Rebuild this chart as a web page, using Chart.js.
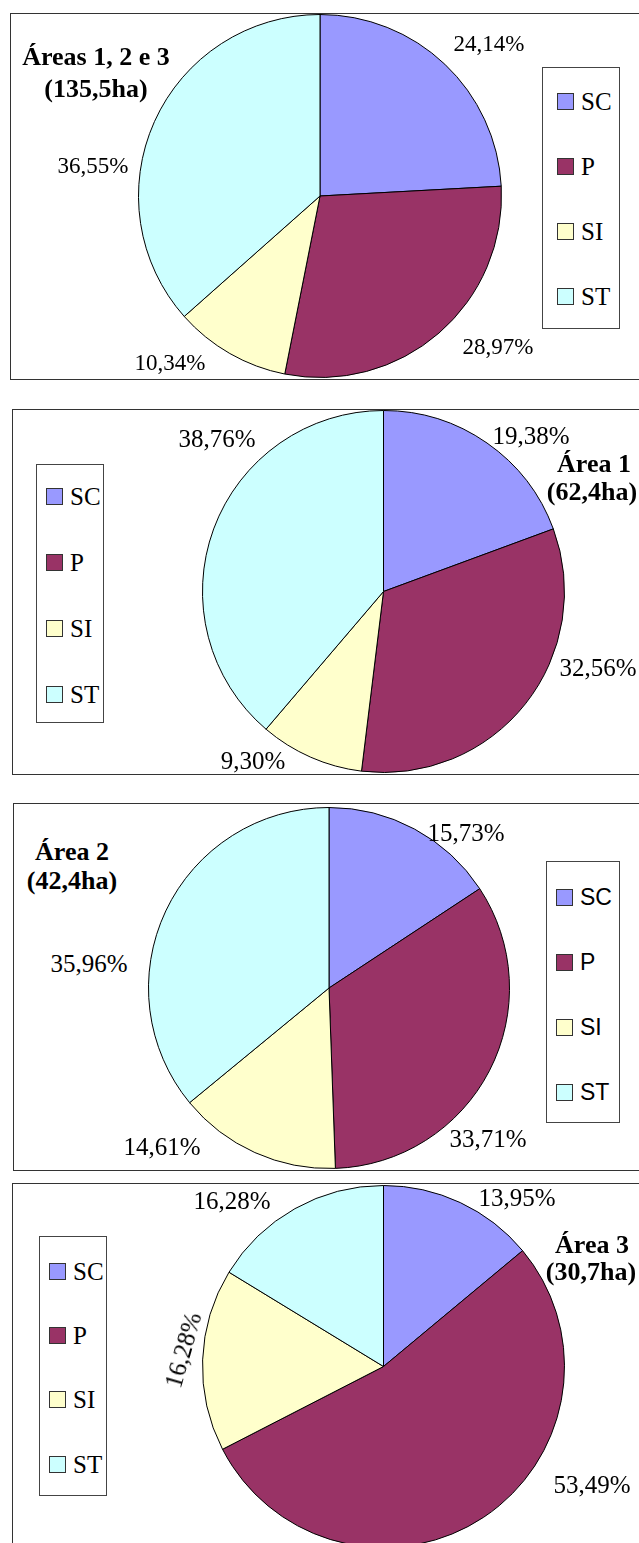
<!DOCTYPE html>
<html>
<head>
<meta charset="utf-8">
<script src="https://cdn.jsdelivr.net/npm/chart.js@4/dist/chart.umd.min.js"></script>
<style>
  html, body { margin: 0; padding: 0; background: #fff; }
  body { position: relative; width: 639px; height: 1543px; overflow: hidden;
         font-family: "Liberation Serif", "Times New Roman", serif; color: #000; }
  .box { position: absolute; border: 1px solid #333; box-sizing: border-box; background: transparent; }
  .pie { position: absolute; }
  .txt { position: absolute; white-space: nowrap; line-height: 1; transform: translate(-50%, -50%); }
  .title { font-weight: bold; font-size: 26px; }
  .legend { position: absolute; border: 1px solid #444; box-sizing: border-box; }
  .item { position: absolute; display: flex; align-items: center; line-height: 1; }
  .sw { width: 15px; height: 15px; border: 1px solid #333; margin-right: 7px; }
</style>
</head>
<body>
<script>
// Land-use classes and their fill colours
const categories = ['SC', 'P', 'SI', 'ST'];
const sliceColors = ['#9999FF', '#993366', '#FFFFCC', '#CCFFFF'];

// Share of each class (%) per area
const areasAll = [24.14, 28.97, 10.34, 36.55];
const area1 = [19.38, 32.56, 9.30, 38.76];
const area2 = [15.73, 33.71, 14.61, 35.96];
const area3 = [13.95, 53.49, 16.28, 16.28];

// Panel headings
const titlesAll = ['Áreas 1, 2 e 3', '(135,5ha)'];
const titles1 = ['Área 1', '(62,4ha)'];
const titles2 = ['Área 2', '(42,4ha)'];
const titles3 = ['Área 3', '(30,7ha)'];

// Page layout for each panel (frame, pie, legend, heading and value labels)
const panels = [
  {
    values: areasAll, titles: titlesAll,
    frame: { x: 10, y: 13, w: 640, h: 367 },
    pie: { x: 138, y: 14, size: 364 },
    legend: { x: 542, y: 67, w: 78, h: 262, first: 33, step: 65, swx: 14, font: 'serif', fs: 25 },
    head: [[96, 57], [96, 89]],
    labelFs: 23,
    labels: [[489, 43, 0], [498, 346, 0], [170, 362, 0], [93, 165, 0]]
  },
  {
    values: area1, titles: titles1,
    frame: { x: 12, y: 409, w: 640, h: 366 },
    pie: { x: 202, y: 410, size: 363 },
    legend: { x: 36, y: 464, w: 68, h: 259, first: 31, step: 66, swx: 9, font: 'serif', fs: 25 },
    head: [[594, 464], [592, 492]],
    labelFs: 25,
    labels: [[531, 435, 0], [598, 667, 0], [253, 760, 0], [217, 438, 0]]
  },
  {
    values: area2, titles: titles2,
    frame: { x: 13, y: 803, w: 640, h: 368 },
    pie: { x: 148, y: 807, size: 362 },
    legend: { x: 546, y: 861, w: 74, h: 262, first: 35, step: 65.3, swx: 9, font: 'sans', fs: 23 },
    head: [[72, 852], [72, 881]],
    labelFs: 25,
    labels: [[466, 832, 0], [488, 1138, 0], [162, 1146, 0], [89, 963, 0]]
  },
  {
    values: area3, titles: titles3,
    frame: { x: 12, y: 1183, w: 640, h: 380 },
    pie: { x: 202, y: 1185, size: 363 },
    legend: { x: 39, y: 1236, w: 68, h: 260, first: 34, step: 64.4, swx: 9, font: 'serif', fs: 25 },
    head: [[592, 1245], [591, 1272]],
    labelFs: 25,
    labels: [[517, 1197, 0], [592, 1484, 0], [183, 1350, -74], [232, 1200, 0]]
  }
];

const fmtPct = v => v.toFixed(2).replace('.', ',') + '%';

function addText(text, x, y, cls, style) {
  const d = document.createElement('div');
  d.className = 'txt ' + (cls || '');
  d.textContent = text;
  d.style.left = x + 'px';
  d.style.top = y + 'px';
  Object.assign(d.style, style || {});
  document.body.appendChild(d);
  return d;
}

panels.forEach(p => {
  // outer frame
  const f = document.createElement('div');
  f.className = 'box';
  Object.assign(f.style, { left: p.frame.x + 'px', top: p.frame.y + 'px', width: p.frame.w + 'px', height: p.frame.h + 'px' });
  document.body.appendChild(f);

  // pie
  const c = document.createElement('canvas');
  c.className = 'pie';
  c.width = p.pie.size; c.height = p.pie.size;
  Object.assign(c.style, { left: p.pie.x + 'px', top: p.pie.y + 'px', width: p.pie.size + 'px', height: p.pie.size + 'px' });
  document.body.appendChild(c);

  const chart = new Chart(c, {
    type: 'pie',
    data: {
      labels: categories,
      datasets: [{
        data: p.values,
        backgroundColor: sliceColors,
        borderColor: '#000',
        borderWidth: 1
      }]
    },
    options: {
      responsive: false,
      animation: false,
      devicePixelRatio: 1,
      layout: { padding: 0 },
      plugins: { legend: { display: false }, tooltip: { enabled: false } }
    }
  });

  // legend built from the chart's own labels and colours
  const L = p.legend;
  const lg = document.createElement('div');
  lg.className = 'legend';
  Object.assign(lg.style, { left: L.x + 'px', top: L.y + 'px', width: L.w + 'px', height: L.h + 'px' });
  document.body.appendChild(lg);
  chart.data.labels.forEach((lab, i) => {
    const it = document.createElement('div');
    it.className = 'item';
    it.style.left = L.swx + 'px';
    it.style.top = (L.first + i * L.step - 13) + 'px';
    it.style.height = '26px';
    it.style.fontSize = L.fs + 'px';
    it.style.fontFamily = L.font === 'sans' ? '"Liberation Sans", Arial, sans-serif' : '"Liberation Serif", "Times New Roman", serif';
    const sw = document.createElement('div');
    sw.className = 'sw';
    sw.style.background = chart.data.datasets[0].backgroundColor[i];
    const t = document.createElement('span');
    t.textContent = lab;
    it.appendChild(sw); it.appendChild(t);
    lg.appendChild(it);
  });

  // heading
  p.titles.forEach((t, i) => addText(t, p.head[i][0], p.head[i][1], 'title'));

  // value labels
  p.values.forEach((v, i) => {
    const [x, y, rot] = p.labels[i];
    const d = addText(fmtPct(v), x, y, '', { fontSize: p.labelFs + 'px' });
    if (rot) d.style.transform = 'translate(-50%, -50%) rotate(' + rot + 'deg)';
  });
});
</script>
</body>
</html>
